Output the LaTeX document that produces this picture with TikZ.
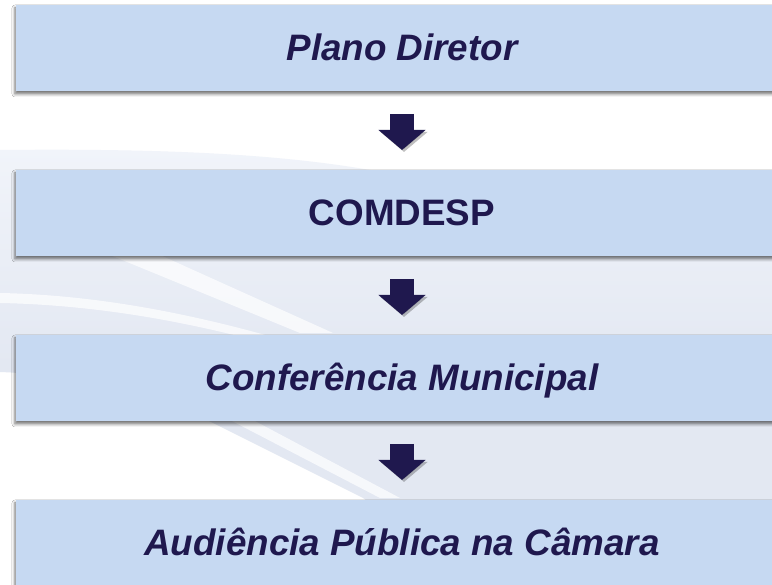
\documentclass[tikz,border=0pt]{standalone}
\usepackage{fontspec}
\setmainfont{Liberation Sans}
\usepackage{tikz}
\usetikzlibrary{shapes,arrows,arrows.meta,positioning,shadows.blur}
\definecolor{boxblue}{RGB}{198,217,242}
\definecolor{navy}{RGB}{31,24,78}
\definecolor{swooshtop}{RGB}{241,244,250}
\definecolor{swoosh}{RGB}{227,232,242}
\tikzstyle{stage} = [rectangle, fill=boxblue, text=navy, minimum width=772pt, minimum height=86pt, inner sep=0pt, outer sep=0pt, text height=26pt, text depth=0pt, font=\fontsize{36.8}{44}\selectfont\bfseries\itshape, blur shadow={shadow xshift=-1pt, shadow yshift=-3pt, shadow blur radius=3pt, shadow opacity=55}]
\tikzstyle{upright} = [font=\fontsize{36.8}{44}\selectfont\bfseries]
\tikzstyle{streak} = [fill=white, opacity=0.7]
\tikzstyle{tedge}  = [draw=navy, line width=24pt, -{Triangle[width=46pt,length=20pt]}, shorten <=23pt, shorten >=20pt, preaction={draw=black, opacity=0.25, transform canvas={xshift=2pt, yshift=-2pt}}]

\begin{document}
\begin{tikzpicture}

\useasboundingbox (0,0) rectangle (772pt,585pt);
\clip (0,0) rectangle (772pt,585pt);

% background =============================
\fill[white] (0,0) rectangle (772pt,585pt);
\shade[top color=swooshtop, bottom color=swoosh, middle color=swoosh] (0,435pt) .. controls (200pt,437pt) and (320pt,428pt) .. (420pt,405pt) -- (772pt,330pt) -- (772pt,0) -- (480pt,0) -- (363pt,87pt) -- (207pt,165pt) .. controls (150pt,190pt) and (80pt,210pt) .. (0,213pt) -- cycle;
\fill[streak] (110pt,330pt) -- (160pt,330pt) -- (333pt,252pt) -- (300pt,252pt) -- cycle;
\fill[streak] (230pt,165pt) -- (253pt,165pt) -- (400pt,87pt) -- (380pt,87pt) -- cycle;
\fill[streak] (0,292pt) .. controls (100pt,290pt) and (200pt,270pt) .. (300pt,240pt) -- (300pt,232pt) .. controls (200pt,262pt) and (100pt,280pt) .. (0,282pt) -- cycle;

% nodes
\node[stage] (plano) at (402pt,537pt) {Plano Diretor};
\node[stage, upright, below=79pt of plano] (comdesp) {COMDESP};
\node[stage, below=79pt of comdesp] (conf) {Conferência Municipal};
\node[stage, below=79pt of conf] (audiencia) {Audiência Pública na Câmara};

% edges
\path[tedge] (plano) -- (comdesp);
\path[tedge] (comdesp) -- (conf);
\path[tedge] (conf) -- (audiencia);

\end{tikzpicture}
\end{document}
